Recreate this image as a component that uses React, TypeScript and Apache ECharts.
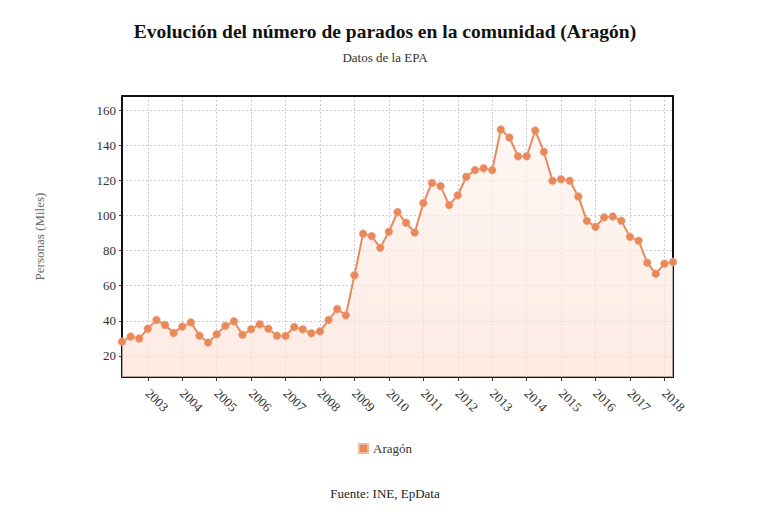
import React, { useEffect, useRef } from "react";
import * as echarts from "echarts";

const TITLE = "Evolución del número de parados en la comunidad (Aragón)";
const SUBTITLE = "Datos de la EPA";
const SOURCE = "Fuente: INE, EpData";
const SERIES_NAME = "Aragón";
const Y_NAME = "Personas (Miles)";

const START_YEAR = 2002;
const START_QUARTER = 2;

// Parados (miles), trimestral, desde 2002T2 hasta 2018T2
const v2002 = [28.1, 31.0, 29.9];
const v2003 = [35.5, 40.5, 37.6, 33.1];
const v2004 = [36.7, 39.1, 31.5, 27.6];
const v2005 = [32.3, 37.1, 39.7, 32.1];
const v2006 = [35.2, 38.0, 35.5, 31.5];
const v2007 = [31.4, 36.5, 35.2, 32.9];
const v2008 = [34.0, 40.5, 46.7, 43.1];
const v2009 = [65.9, 89.6, 88.2, 81.6];
const v2010 = [90.7, 101.9, 95.8, 90.3];
const v2011 = [107.0, 118.5, 116.7, 105.9];
const v2012 = [111.5, 122.0, 125.8, 126.9];
const v2013 = [125.8, 148.9, 144.3, 133.7];
const v2014 = [133.7, 148.3, 136.2, 119.7];
const v2015 = [120.6, 119.7, 110.8, 96.9];
const v2016 = [93.5, 98.9, 99.4, 96.9];
const v2017 = [87.8, 85.6, 73.1, 66.8];
const v2018 = [72.5, 73.5];

const parados = [
  ...v2002, ...v2003, ...v2004, ...v2005, ...v2006, ...v2007, ...v2008, ...v2009,
  ...v2010, ...v2011, ...v2012, ...v2013, ...v2014, ...v2015, ...v2016, ...v2017, ...v2018,
];

const quarters: string[] = [];
{
  let y = START_YEAR;
  let q = START_QUARTER;
  for (let i = 0; i < parados.length; i++) {
    quarters.push(`${y}T${q}`);
    q++;
    if (q > 4) { q = 1; y++; }
  }
}

const Y_MIN = 8;
const Y_MAX = 168;

const ORANGE = "#e8895b";
const FONT = "'Liberation Serif', 'Times New Roman', serif";

const isYearStart = (_i: number, v: string) => v.endsWith("T1");

export default function App() {
  const ref = useRef<HTMLDivElement>(null);
  useEffect(() => {
    if (!ref.current) return;
    const chart = echarts.init(ref.current, null, { renderer: "svg" });
    chart.setOption({
      animation: false,
      backgroundColor: "#ffffff",
      textStyle: { fontFamily: FONT },
      title: [
        {
          text: TITLE,
          left: "center",
          top: 16,
          textStyle: { fontFamily: FONT, fontSize: 19.5, fontWeight: "bold", color: "#111" },
        },
        {
          text: SUBTITLE,
          left: "center",
          top: 46,
          textStyle: { fontFamily: FONT, fontSize: 13, fontWeight: "normal", color: "#333" },
        },
        {
          text: SOURCE,
          left: "center",
          top: 482,
          textStyle: { fontFamily: FONT, fontSize: 13, fontWeight: "normal", color: "#222" },
        },
      ],
      legend: {
        data: [SERIES_NAME],
        left: "center",
        top: 437,
        icon: "rect",
        itemWidth: 9,
        itemHeight: 9,
        textStyle: { fontFamily: FONT, fontSize: 13, color: "#333" },
      },
      grid: {
        left: 122,
        right: 97,
        top: 96,
        bottom: 142,
        show: false,
      },
      xAxis: [
        {
          type: "category",
          boundaryGap: false,
          data: quarters,
          axisLine: { show: true, lineStyle: { color: "#111", width: 2 } },
          axisTick: {
            show: true,
            interval: isYearStart,
            length: 4,
            lineStyle: { color: "#333", width: 1 },
          },
          axisLabel: {
            interval: isYearStart,
            formatter: (v: string) => v.slice(0, 4),
            rotate: -45,
            margin: 14,
            fontFamily: FONT,
            fontSize: 13,
            color: "#333",
          },
          splitLine: {
            show: true,
            interval: isYearStart,
            lineStyle: { color: "#cfcfcf", type: [2, 2], width: 1 },
          },
        },
        {
          type: "category",
          position: "top",
          boundaryGap: false,
          data: quarters,
          axisLine: { show: true, onZero: false, lineStyle: { color: "#111", width: 2 } },
          axisTick: { show: false },
          axisLabel: { show: false },
          splitLine: { show: false },
        },
      ],
      yAxis: [
        {
          type: "value",
          min: Y_MIN,
          max: Y_MAX,
          splitNumber: 8,
          name: Y_NAME,
          nameLocation: "middle",
          nameGap: 76,
          nameRotate: 90,
          nameTextStyle: { fontFamily: FONT, fontSize: 13, color: "#666" },
          axisLine: { show: true, lineStyle: { color: "#111", width: 2 } },
          axisTick: { show: true, length: 3, lineStyle: { color: "#333" } },
          axisLabel: {
            showMinLabel: false,
            showMaxLabel: false,
            margin: 6,
            fontFamily: FONT,
            fontSize: 13,
            color: "#333",
          },
          splitLine: {
            show: true,
            showMinLine: false,
            showMaxLine: false,
            lineStyle: { color: "#cfcfcf", type: [2, 2], width: 1 },
          },
        },
        {
          type: "value",
          position: "right",
          min: Y_MIN,
          max: Y_MAX,
          splitNumber: 8,
          axisLine: { show: true, onZero: false, lineStyle: { color: "#111", width: 2 } },
          axisTick: { show: false },
          axisLabel: { show: false },
          splitLine: { show: false },
        },
      ],
      series: [
        {
          name: SERIES_NAME,
          type: "line",
          xAxisIndex: 0,
          yAxisIndex: 0,
          data: parados,
          symbol: "circle",
          symbolSize: 8,
          showSymbol: true,
          showAllSymbol: true,
          lineStyle: { color: ORANGE, width: 2 },
          itemStyle: { color: ORANGE, borderColor: "#f3b89c", borderWidth: 0.5 },
          areaStyle: {
            color: new echarts.graphic.LinearGradient(0, 0, 0, 1, [
              { offset: 0, color: "rgba(253, 243, 238, 1)" },
              { offset: 1, color: "rgba(252, 226, 216, 1)" },
            ]),
            origin: "start",
          },
          z: 3,
        },
      ],
    });
    return () => chart.dispose();
  }, []);
  return <div ref={ref} style={{ width: 770, height: 519, margin: -8 }} />;
}
